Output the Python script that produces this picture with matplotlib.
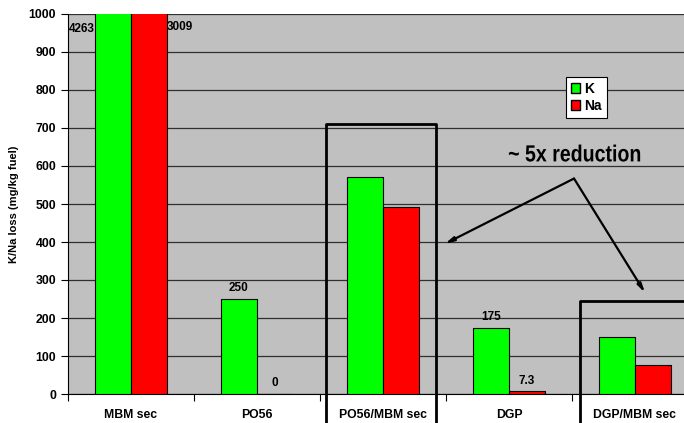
import numpy as np
import matplotlib.pyplot as plt
from matplotlib.patches import Patch, PathPatch
from matplotlib.textpath import TextPath
from matplotlib.font_manager import FontProperties
from matplotlib.transforms import Affine2D, IdentityTransform

categories = ["MBM sec", "PO56", "PO56/MBM sec", "DGP", "DGP/MBM sec"]
k_loss = [4263, 250, 570, 175, 149]
na_loss = [3009, 0, 491, 7.3, 76]

green = "#00FF00"
red = "#FF0000"

plt.rcParams['font.family'] = ['Liberation Sans', 'DejaVu Sans']

fig = plt.figure(figsize=(6.84, 4.23), dpi=100)
ax = fig.add_axes([68 / 684, 29 / 423, 630 / 684, 380 / 423])
ax.set_facecolor("#C0C0C0")

x = np.arange(len(categories)) + 0.5
w = 0.286
ax.bar(x - w / 2, k_loss, w, color=green, edgecolor="black", linewidth=0.8, zorder=3, label="K")
ax.bar(x + w / 2, na_loss, w, color=red, edgecolor="black", linewidth=0.8, zorder=3, label="Na")

ax.set_xlim(0, 5)
ax.set_ylim(0, 1000)
ax.set_yticks(np.arange(0, 1001, 100))
ax.yaxis.grid(True, color="#303030", linewidth=0.9, zorder=1)
ax.set_axisbelow(True)

# category boundaries as ticks, names centred between them
ax.set_xticks(np.arange(0, 6))
ax.set_xticklabels([])
ax.set_xticks(x, minor=True)
ax.set_xticklabels(categories, minor=True, fontweight="bold", fontsize=8.8)
ax.tick_params(axis="x", which="major", length=5, direction="out", width=0.8)
ax.tick_params(axis="x", which="minor", length=0, pad=11)
ax.tick_params(axis="y", length=5, width=0.8, labelsize=8.8)
for t in ax.get_yticklabels():
    t.set_fontweight("bold")

for s in ["top", "right"]:
    ax.spines[s].set_visible(False)
ax.spines["left"].set_linewidth(0.8)
ax.spines["bottom"].set_linewidth(0.8)

ax.set_ylabel("K/Na loss (mg/kg fuel)", fontweight="bold", fontsize=8, labelpad=7)

# value labels
lab = dict(fontweight="bold", fontsize=8.5, ha="center", va="bottom", zorder=5)
ax.text(x[0] - w, 960, f"{k_loss[0]}", fontweight="bold", fontsize=8.5, ha="right", va="center", zorder=5)
ax.text(x[0] + w, 965, f"{na_loss[0]}", fontweight="bold", fontsize=8.5, ha="left", va="center", zorder=5)
ax.text(x[1] - w / 2, k_loss[1] + 12, f"{k_loss[1]}", **lab)
ax.text(x[1] + w / 2, na_loss[1] + 12, f"{na_loss[1]}", **lab)
ax.text(x[3] - w / 2, k_loss[3] + 12, f"{k_loss[3]}", **lab)
ax.text(x[3] + w / 2, na_loss[3] + 12, f"{na_loss[3]}", **lab)

# highlight boxes
box = dict(color="black", linewidth=2, clip_on=False, zorder=6)
ax.plot([2.05, 2.05, 2.92, 2.92], [-120, 711, 711, -120], **box)
ax.plot([4.06, 4.06, 5.5], [-120, 244, 244], **box)

# arrows
apex = (4.016, 567)
for tip in [(2.99, 395), (4.58, 266)]:
    ax.annotate("", xy=tip, xytext=apex,
                arrowprops=dict(arrowstyle="-|>,head_length=0.5,head_width=0.12",
                                color="black", lw=1.6, shrinkA=0, shrinkB=0),
                zorder=6)

# narrow "~ 5x reduction" text: squeeze a bold text path horizontally
tp = TextPath((0, 0), "~ 5x reduction", size=100,
              prop=FontProperties(family="Liberation Sans", weight="bold"))
ext = tp.get_extents()
sx, sy = 0.84 * 0.233, 0.233
cx, cy = ax.transData.transform((4.02, 634))
tr = (Affine2D().translate(-(ext.x0 + ext.x1) / 2, -(ext.y0 + ext.y1) / 2)
      .scale(sx, sy).translate(cx, cy))
fig.patches.append(PathPatch(tr.transform_path(tp), facecolor="black", lw=0,
                             transform=IdentityTransform(), figure=fig, zorder=8))

handles = [Patch(facecolor=green, edgecolor="black", label="K"),
           Patch(facecolor=red, edgecolor="black", label="Na")]
leg = ax.legend(handles=handles, loc="upper left", bbox_to_anchor=(0.779, 0.853),
                fancybox=False, framealpha=1, edgecolor="black",
                prop=dict(weight="bold", size=10), handlelength=0.7, handleheight=0.7,
                handletextpad=0.3, borderpad=0.35, labelspacing=0.25)
leg.get_frame().set_linewidth(0.8)
leg.set_zorder(7)

fig.savefig("out.png", dpi=100)
